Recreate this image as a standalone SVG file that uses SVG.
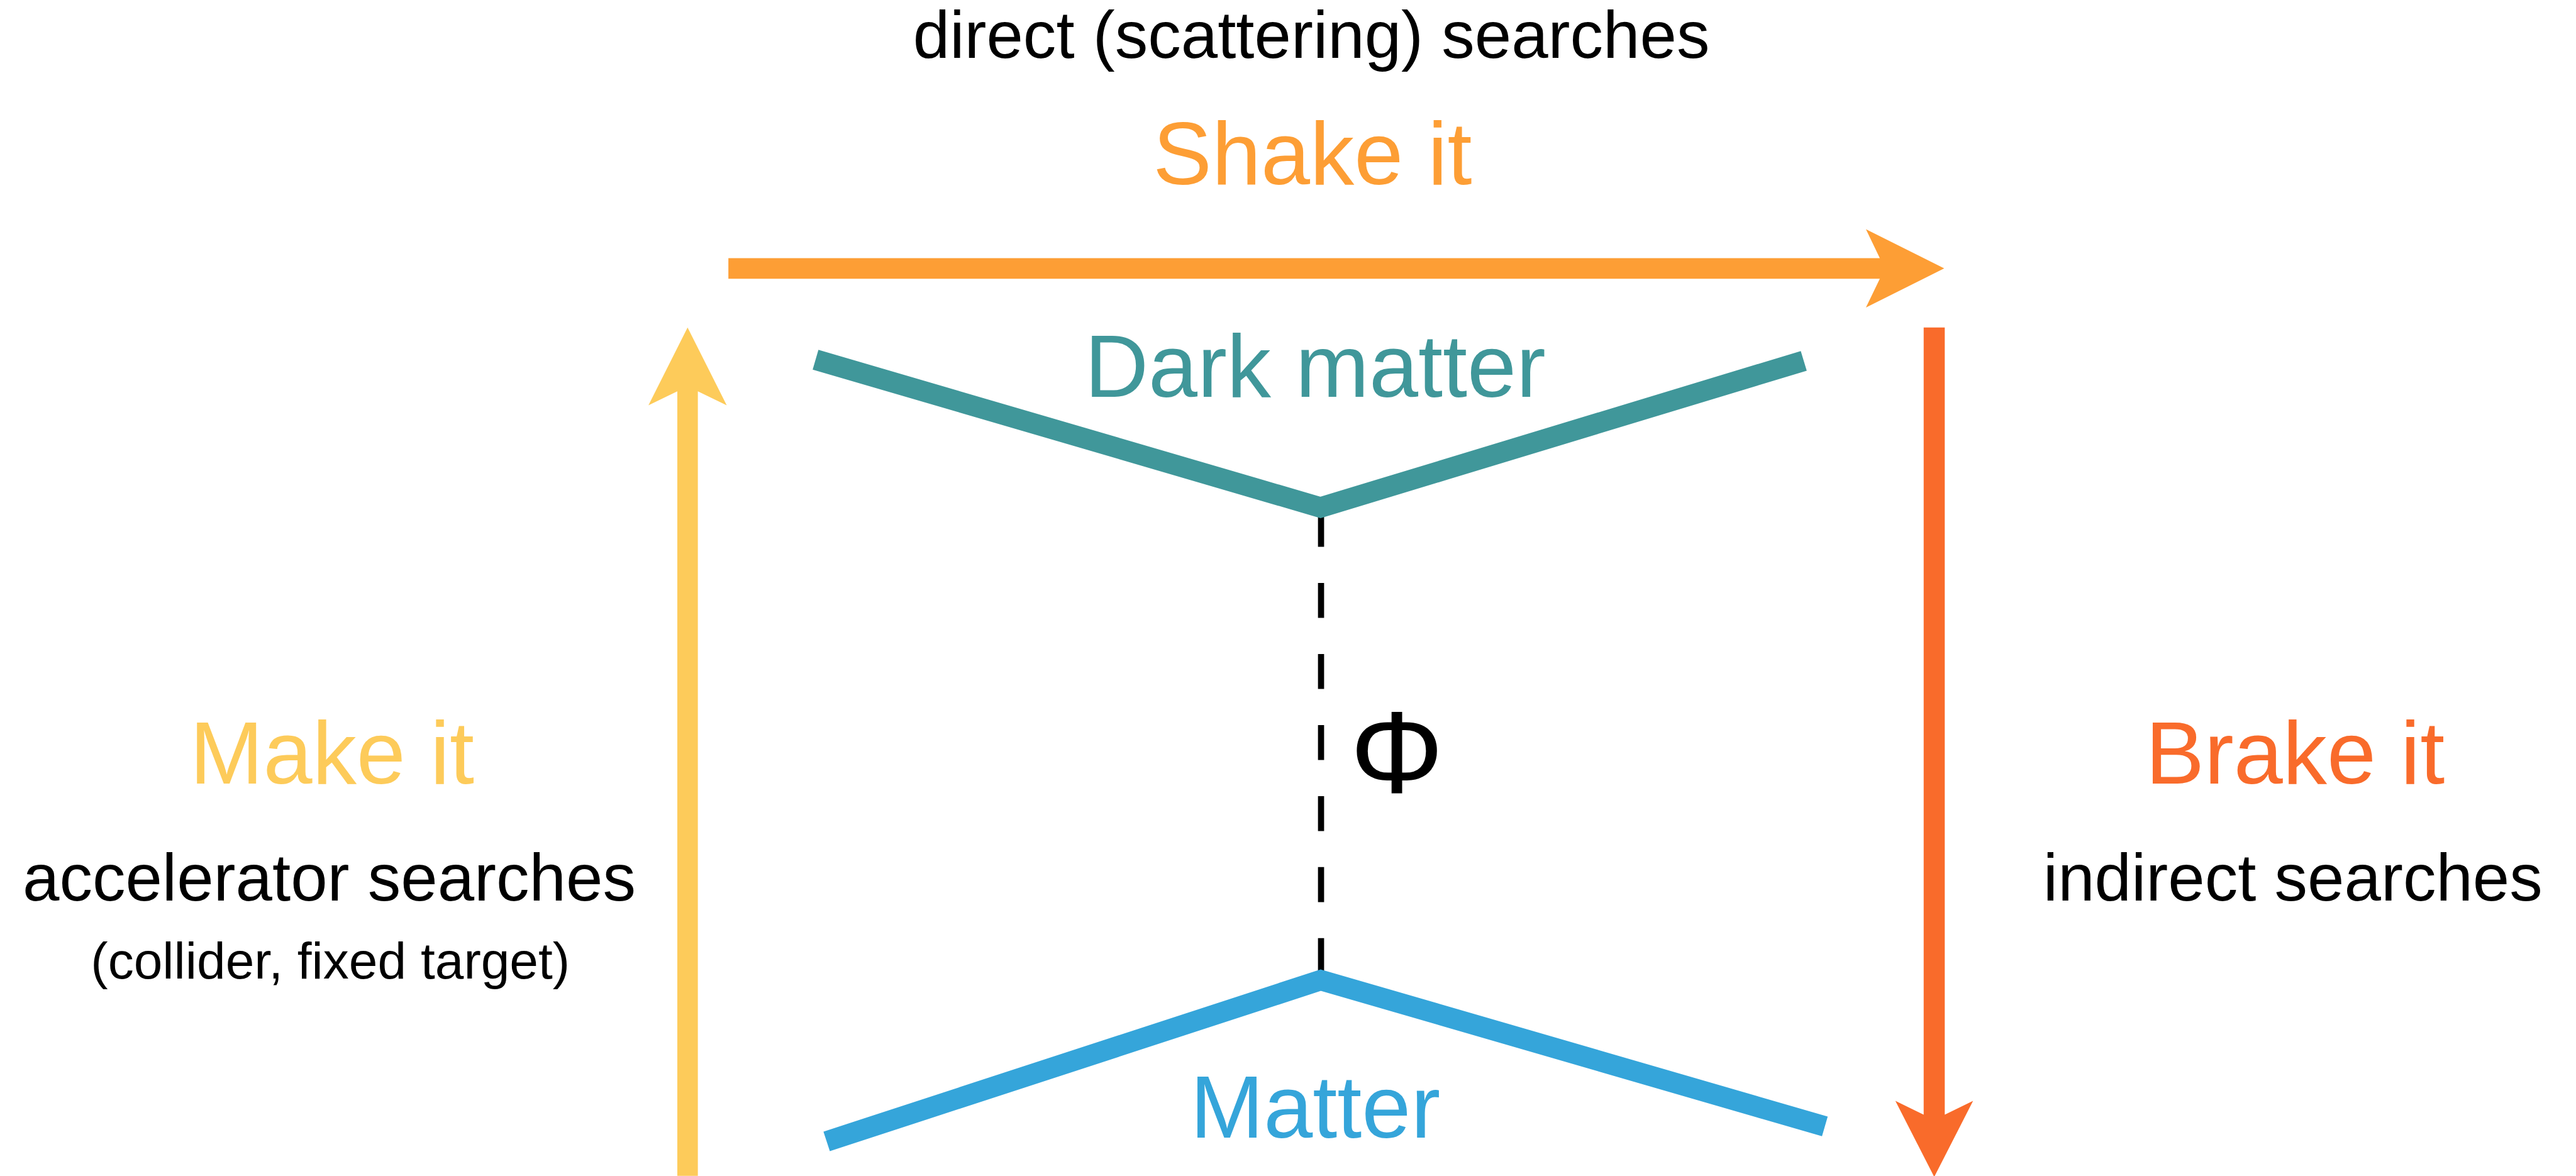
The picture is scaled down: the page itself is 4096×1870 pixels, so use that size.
<svg xmlns="http://www.w3.org/2000/svg" width="4096" height="1870" viewBox="0 0 4096 1870">
<style>
text{font-family:"Liberation Sans",Arial,sans-serif;text-anchor:middle}
.big{font-size:159px}
.mid{font-size:119px;fill:#000}
.sml{font-size:93px;fill:#000}
.line{fill:none;stroke-width:37;stroke-linejoin:miter;stroke-linecap:butt}
</style>
<rect width="4096" height="1870" fill="#fff"/>
<g transform="scale(0.88276)">
<g id="connectors">
<polygon id="shake-arrow" fill="#FD9E35" points="1312,465 3386,465 3361,413 3502,483.5 3361,554 3386,502 1312,502"/>
<polygon id="make-arrow" fill="#FDCB5A" points="1220,2118 1220,705 1168,730 1238.5,590 1309,730 1257,705 1257,2118"/>
<polygon id="brake-arrow" fill="#F96B2B" points="3465,590 3503,590 3503,2008 3554,1983 3484,2120 3414,1983 3465,2008"/>
<line id="mediator" x1="2379.5" y1="922" x2="2379.5" y2="1753" stroke="#000" stroke-width="11" stroke-dasharray="63 65"/>
<polyline id="dm-line" class="line" stroke="#40979A" points="1469,648 2378.5,914 3249,650"/>
<polyline id="matter-line" class="line" stroke="#35A5DA" points="1489,2056 2379,1765.5 3287,2029"/>
</g>
<g id="top-label"><text class="mid" x="2362" y="104">direct (scattering) searches</text></g>
<g id="shake"><text class="big" x="2364" y="332" fill="#FD9E35">Shake it</text></g>
<g id="dark-matter"><text class="big" x="2369" y="715" fill="#40979A">Dark matter</text></g>
<g id="phi"><text x="2516" y="1428" style="font-size:211px" fill="#000">Φ</text></g>
<g id="matter"><text class="big" x="2369" y="2049" fill="#35A5DA">Matter</text></g>
<g id="make">
<text class="big" x="598" y="1412" fill="#FDCB5A">Make it</text>
<text class="mid" x="593" y="1622">accelerator searches</text>
<text class="sml" x="595" y="1763">(collider, fixed target)</text>
</g>
<g id="brake">
<text class="big" x="4134" y="1412" fill="#F96B2B">Brake it</text>
<text class="mid" x="4130" y="1622">indirect searches</text>
</g>
</g>
</svg>
